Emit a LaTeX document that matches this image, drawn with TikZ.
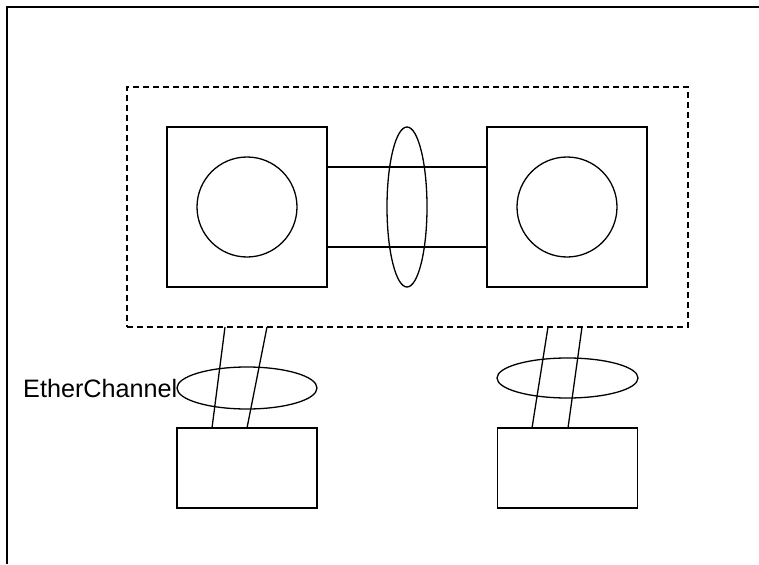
\documentclass[tikz,border=0pt]{standalone}
\usepackage{fontspec}
\setmainfont{Liberation Sans}
\usetikzlibrary{shapes.geometric}
\begin{document}
\begin{tikzpicture}[x=1pt,y=-1pt,
  every path/.style={line width=1.3pt},
  box/.style={draw,rectangle,inner sep=0pt,outer sep=0pt,line width=1.3pt},
  ring/.style={draw,circle,inner sep=0pt,outer sep=0pt,line width=1.3pt},
  bundle/.style={draw,ellipse,inner sep=0pt,outer sep=0pt,line width=1.3pt},
  stackbox/.style={draw,rectangle,dash pattern=on 6pt off 4pt,inner sep=0pt,outer sep=0pt,line width=1.3pt},
  lbl/.style={inner sep=0pt,font=\fontsize{25.2}{30}\selectfont}]
\useasboundingbox (0,0) rectangle (759,564);
% partial frame
\coordinate (fbl) at (7,564);
\coordinate (ftl) at (7,7);
\coordinate (ftr) at (759,7);
\draw (fbl) -- (ftl) -- (ftr);
% stack
\node[stackbox,minimum width=561pt,minimum height=240pt] (stack) at (407.5,207) {};
\node[box,minimum width=160pt,minimum height=160pt] (sw1) at (247,207) {};
\node[ring,minimum size=100pt] (c1) at (247,207) {};
\node[box,minimum width=160pt,minimum height=160pt] (sw2) at (567,207) {};
\node[ring,minimum size=100pt] (c2) at (567,207) {};
\draw (sw1.east |- 0,167) -- (sw2.west |- 0,167);
\draw (sw1.east |- 0,247) -- (sw2.west |- 0,247);
\node[bundle,minimum width=40pt,minimum height=160pt] (vsl) at (407,207) {};
% access switches
\node[box,minimum width=140pt,minimum height=80pt] (acc1) at (247,468) {};
\node[box,minimum width=140pt,minimum height=80pt] (acc2) at (567.5,468) {};
\draw (stack.south -| 225,0) -- (acc1.north -| 212,0);
\draw (stack.south -| 267,0) -- (acc1.north -| 247,0);
\draw (stack.south -| 548,0) -- (acc2.north -| 532,0);
\draw (stack.south -| 582,0) -- (acc2.north -| 568,0);
\node[bundle,minimum width=140pt,minimum height=42pt] (e1) at (247,388) {};
\node[bundle,minimum width=141pt,minimum height=40pt] (e2) at (567.5,378) {};
\node[lbl,anchor=east] (ec) at ([xshift=1pt]e1.west) {EtherChannel};
\end{tikzpicture}
\end{document}
